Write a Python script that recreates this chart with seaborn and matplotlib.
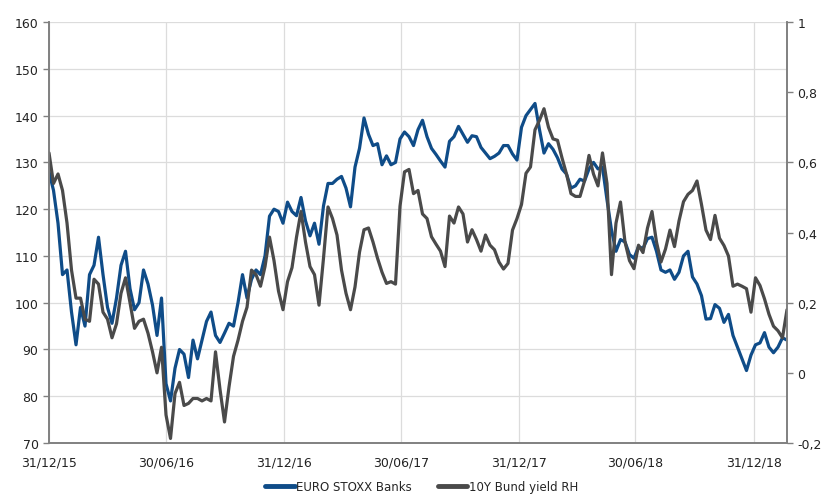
import pandas as pd
import seaborn as sns
import matplotlib.pyplot as plt
import matplotlib.dates as mdates
from matplotlib.ticker import FuncFormatter
from matplotlib.lines import Line2D

# weekly observations starting 31/12/2015
start_date = '2015-12-31'

# EURO STOXX Banks index (left axis)
banks = [128, 124, 117, 106, 107, 98, 91, 99, 95, 106,
         108, 114, 106, 99, 95.6, 101, 108, 111, 103, 98.5,
         100, 107, 104, 99.5, 93, 101, 82.7, 79, 86, 90,
         89, 84, 92, 88, 92, 96, 98, 93, 91.5, 93.5,
         95.6, 95, 100, 106, 101, 105, 107, 106, 110, 118.5,
         120, 119.5, 117, 121.5, 119.5, 118.6, 122.5, 117.5, 114.3, 117,
         112.5, 120.7, 125.5, 125.5, 126.4, 127, 124.5, 120.5, 129, 133,
         139.5, 136, 133.6, 134, 129.5, 131.4, 129.5, 130, 135, 136.5,
         135.5, 133.6, 137, 139, 135.5, 133, 131.7, 130.3, 129, 134.5,
         135.5, 137.7, 136, 134.3, 135.7, 135.5, 133.2, 132, 130.8, 131.3,
         132, 133.6, 133.6, 131.8, 130.5, 137.5, 140, 141.3, 142.6, 137,
         132, 134, 132.8, 131, 128.6, 127.5, 124.5, 125, 126.4, 126,
         128.6, 130, 128.6, 129, 122, 115.5, 111, 113.5, 113, 110.3,
         109.5, 112, 111.6, 113.7, 114, 111, 107, 106.5, 107, 105,
         106.5, 110, 111, 105.5, 104, 101.5, 96.5, 96.6, 99.6, 98.8,
         95.8, 97.5, 93, 90.5, 88, 85.5, 88.8, 91, 91.4, 93.6,
         90.5, 89.3, 90.5, 92.5, 92]

# 10Y Bund yield, % (right axis)
bund = [0.627, 0.540, 0.567, 0.520, 0.427, 0.293, 0.213, 0.213, 0.153, 0.147,
        0.267, 0.253, 0.173, 0.153, 0.100, 0.140, 0.227, 0.271, 0.200, 0.127,
        0.147, 0.153, 0.113, 0.060, 0.000, 0.073, -0.120, -0.187, -0.059, -0.027,
        -0.093, -0.087, -0.073, -0.073, -0.080, -0.073, -0.080, 0.060, -0.047, -0.140,
        -0.040, 0.047, 0.093, 0.147, 0.187, 0.293, 0.280, 0.247, 0.303, 0.387,
        0.320, 0.233, 0.180, 0.260, 0.300, 0.387, 0.460, 0.373, 0.303, 0.280,
        0.193, 0.327, 0.473, 0.440, 0.393, 0.293, 0.227, 0.180, 0.245, 0.344,
        0.408, 0.413, 0.373, 0.327, 0.287, 0.255, 0.260, 0.253, 0.475, 0.573,
        0.580, 0.511, 0.520, 0.453, 0.440, 0.388, 0.367, 0.347, 0.303, 0.447,
        0.427, 0.473, 0.453, 0.373, 0.408, 0.380, 0.347, 0.393, 0.364, 0.351,
        0.316, 0.296, 0.312, 0.407, 0.440, 0.480, 0.569, 0.587, 0.693, 0.720,
        0.753, 0.700, 0.667, 0.663, 0.613, 0.567, 0.511, 0.503, 0.503, 0.547,
        0.620, 0.567, 0.533, 0.627, 0.540, 0.280, 0.427, 0.487, 0.373, 0.320,
        0.297, 0.364, 0.343, 0.413, 0.460, 0.373, 0.316, 0.353, 0.407, 0.360,
        0.433, 0.488, 0.509, 0.520, 0.547, 0.480, 0.407, 0.380, 0.449, 0.384,
        0.363, 0.333, 0.247, 0.253, 0.247, 0.240, 0.173, 0.271, 0.249, 0.211,
        0.167, 0.133, 0.120, 0.100, 0.180]

tick_dates = ['2015-12-31', '2016-06-30', '2016-12-31', '2017-06-30',
              '2017-12-31', '2018-06-30', '2018-12-31']

dates = pd.date_range(start_date, periods=len(banks), freq='7D')
df = pd.DataFrame({'date': dates, 'banks': banks, 'bund': bund})

sns.set_style('white')
plt.rcParams['font.family'] = ['DejaVu Sans']

fig = plt.figure(figsize=(8.35, 5.02), dpi=100)
ax = fig.add_axes([0.0587, 0.1155, 0.8838, 0.8385])

blue = '#0f4c88'
grey = '#4a4a4a'

sns.lineplot(data=df, x='date', y='banks', ax=ax, color=blue, linewidth=2.3)
ax2 = ax.twinx()
sns.lineplot(data=df, x='date', y='bund', ax=ax2, color=grey, linewidth=2.3)

ax.set_ylim(70, 160)
ax.set_yticks(range(70, 161, 10))
ax2.set_ylim(-0.2, 1.0)
ax2.set_yticks([-0.2, 0, 0.2, 0.4, 0.6, 0.8, 1.0])
ax2.yaxis.set_major_formatter(FuncFormatter(
    lambda v, p: ('%g' % round(v, 1)).replace('.', ',')))

ax.set_xlim(pd.Timestamp(start_date), dates[-1])
ax.set_xticks(pd.to_datetime(tick_dates))
ax.xaxis.set_major_formatter(mdates.DateFormatter('%d/%m/%y'))

ax.grid(True, color='#dcdcdc', linewidth=0.9)
ax.set_axisbelow(True)
for a in (ax, ax2):
    a.set_xlabel('')
    a.set_ylabel('')
    a.spines['top'].set_visible(False)
    for s in ('left', 'right', 'bottom'):
        a.spines[s].set_color('#808080')
        a.spines[s].set_linewidth(1.2)
    a.tick_params(axis='both', length=4, width=1, color='#808080',
                  labelsize=9, labelcolor='#222222', direction='out')
ax.tick_params(axis='x', pad=5)

handles = [Line2D([], [], color=blue, linewidth=3.5),
           Line2D([], [], color=grey, linewidth=3.5)]
fig.legend(handles, ['EURO STOXX Banks', '10Y Bund yield RH'],
           loc='center', bbox_to_anchor=(0.505, 0.028), ncol=2,
           frameon=False, fontsize=8.5, handlelength=2.5, handletextpad=0.1,
           columnspacing=2.2)

fig.savefig('out.png', dpi=100)
